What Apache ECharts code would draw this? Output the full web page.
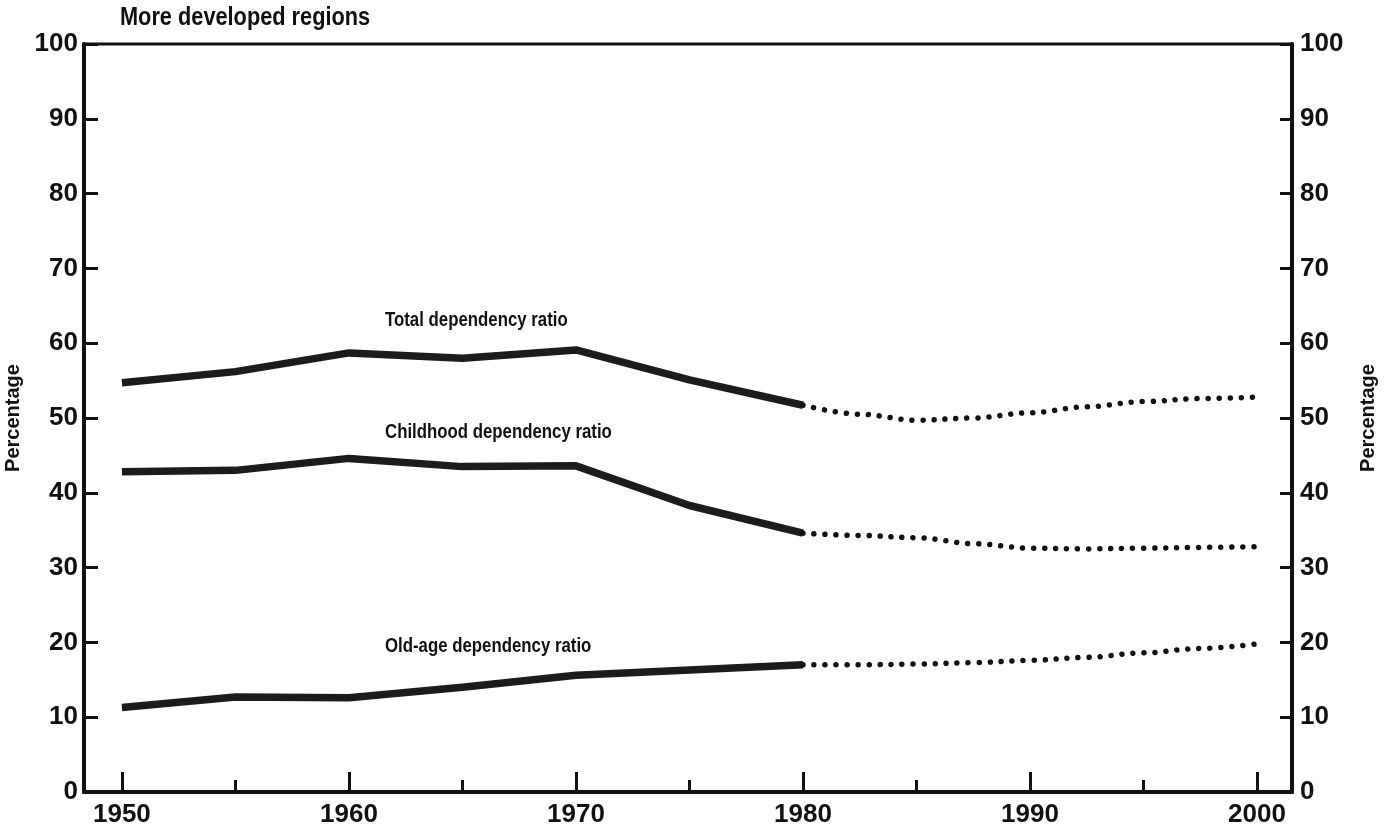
<!DOCTYPE html>
<html>
<head>
<meta charset="utf-8">
<script src="https://cdn.jsdelivr.net/npm/echarts@6/dist/echarts.min.js"></script>
<style>
  html, body { margin: 0; padding: 0; background: #fff; }
  #chart { width: 1393px; height: 832px; }
</style>
</head>
<body>
<div id="chart"></div>
<script>
// ---- Data ----
const title = 'More developed regions';
const yAxisName = 'Percentage';
const obsYears = [1950, 1955, 1960, 1965, 1970, 1975, 1980];
const totalObs = [54.7, 56.2, 58.7, 58.0, 59.1, 55.1, 51.7];
const childObs = [42.8, 43.0, 44.6, 43.5, 43.6, 38.3, 34.6];
const oldObs   = [11.3, 12.7, 12.6, 14.0, 15.6, 16.3, 17.0];

const projYears = [1980, 1982.5, 1985, 1987.5, 1990, 1992.5, 1995, 1997.5, 2000];
const totalProj = [51.7, 50.5, 49.7, 50.0, 50.7, 51.5, 52.2, 52.6, 52.8];
const childProj = [34.6, 34.3, 34.0, 33.2, 32.6, 32.5, 32.6, 32.7, 32.8];
const oldProj   = [17.0, 17.0, 17.1, 17.3, 17.6, 18.0, 18.6, 19.2, 19.8];

const seriesLabels = ['Total dependency ratio', 'Childhood dependency ratio', 'Old-age dependency ratio'];
const yTicks = [0, 10, 20, 30, 40, 50, 60, 70, 80, 90, 100];
const decadeTicks = [1950, 1960, 1970, 1980, 1990, 2000];
const halfDecadeTicks = [1955, 1965, 1975, 1985, 1995];

// ---- Chart ----
const FONT = "'Liberation Sans', Arial, sans-serif";
const INK = '#111111';
const zip = (xs, ys) => xs.map((x, i) => [x, ys[i]]);

const chart = echarts.init(document.getElementById('chart'), null, { renderer: 'canvas' });

const solid = (data) => ({
  type: 'line', data, symbol: 'none', smooth: false,
  lineStyle: { color: '#1c1c1c', width: 7.5, cap: 'butt', join: 'round' },
  silent: true, z: 3
});
const dotted = (data) => ({
  type: 'line', data, symbol: 'none', smooth: 0.35, smoothMonotone: 'x',
  lineStyle: { color: '#111', width: 5.5, type: [0.01, 11], cap: 'round' },
  silent: true, z: 3
});

const labelPos = [
  { x: 385, y: 310 },
  { x: 385, y: 422 },
  { x: 385, y: 636 }
];

const axisText = { color: INK, fontFamily: FONT, fontWeight: 'bold' };

chart.setOption({
  animation: false,
  backgroundColor: '#ffffff',
  grid: {
    left: 84, right: 101, top: 44, bottom: 40,
    outerBoundsMode: 'none', containLabel: false,
    show: true, borderColor: INK, borderWidth: 3, backgroundColor: 'transparent'
  },
  xAxis: [
    {
      type: 'value', min: 1948.33, max: 2001.54, position: 'bottom',
      axisLine: { show: true, lineStyle: { color: INK, width: 4 } },
      axisTick: { show: true, inside: true, length: 20, customValues: decadeTicks,
                  lineStyle: { color: INK, width: 3 } },
      axisLabel: Object.assign({ show: true, customValues: decadeTicks, margin: 10, fontSize: 26,
                   formatter: v => String(v) }, axisText),
      splitLine: { show: false }
    },
    {
      type: 'value', min: 1948.33, max: 2001.54, position: 'bottom',
      axisLine: { show: false },
      axisTick: { show: true, inside: true, length: 12, customValues: halfDecadeTicks,
                  lineStyle: { color: INK, width: 3 } },
      axisLabel: { show: false },
      splitLine: { show: false }
    }
  ],
  yAxis: [
    {
      type: 'value', min: 0, max: 100, interval: 10, position: 'left',
      name: yAxisName, nameLocation: 'middle', nameRotate: 90, nameGap: 57,
      nameTextStyle: Object.assign({ fontSize: 20 }, axisText),
      axisLine: { show: true, lineStyle: { color: INK, width: 4 } },
      axisTick: { show: true, inside: true, length: 14, lineStyle: { color: INK, width: 3 } },
      axisLabel: Object.assign({ show: true, margin: 6, fontSize: 26, customValues: yTicks }, axisText),
      splitLine: { show: false }
    },
    {
      type: 'value', min: 0, max: 100, interval: 10, position: 'right',
      name: yAxisName, nameLocation: 'middle', nameRotate: 90, nameGap: 66,
      nameTextStyle: Object.assign({ fontSize: 20 }, axisText),
      axisLine: { show: true, lineStyle: { color: INK, width: 4 } },
      axisTick: { show: true, inside: true, length: 12, lineStyle: { color: INK, width: 3 } },
      axisLabel: Object.assign({ show: true, margin: 8, fontSize: 26, customValues: yTicks }, axisText),
      splitLine: { show: false }
    }
  ],
  graphic: [
    { type: 'text', x: 120, y: 6, scaleX: 0.87,
      style: { text: title, fill: INK, font: `bold 25px ${FONT}` } },
    ...seriesLabels.map((t, i) => ({
      type: 'text', x: labelPos[i].x, y: labelPos[i].y, scaleX: 0.84,
      style: { text: t, fill: INK, font: `bold 20px ${FONT}` }
    }))
  ],
  series: [
    solid(zip(obsYears, totalObs)),
    solid(zip(obsYears, childObs)),
    solid(zip(obsYears, oldObs)),
    dotted(zip(projYears, totalProj)),
    dotted(zip(projYears, childProj)),
    dotted(zip(projYears, oldProj))
  ]
});
</script>
</body>
</html>
